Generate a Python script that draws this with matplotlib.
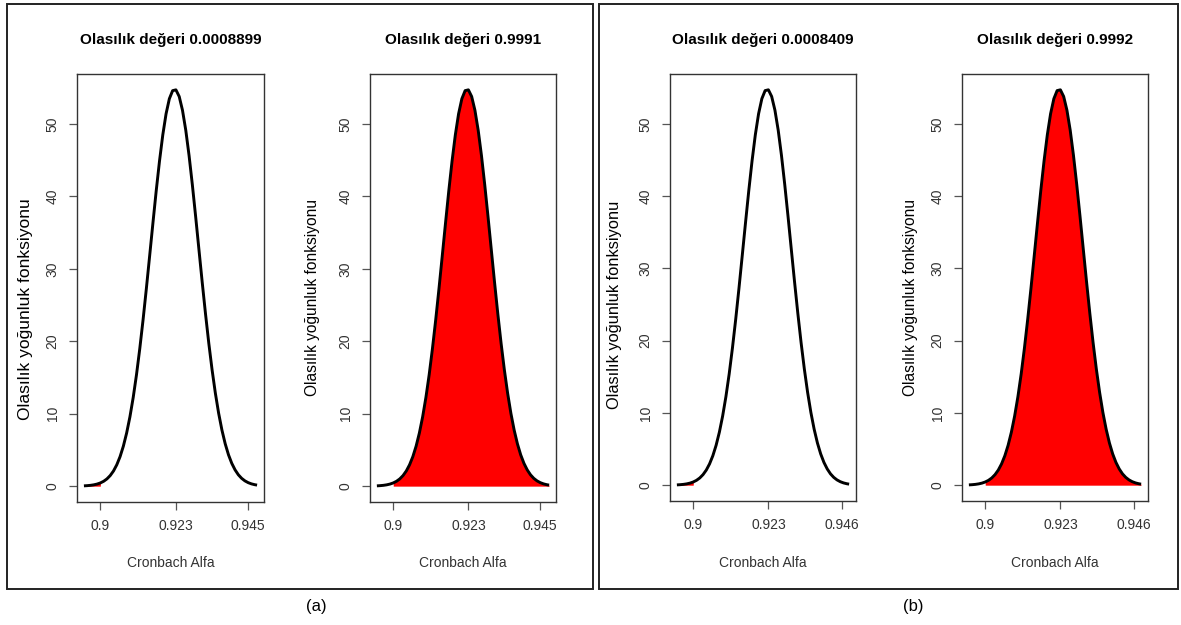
import matplotlib
matplotlib.use("Agg")
import matplotlib.pyplot as plt
from matplotlib.patches import Rectangle

plt.rcParams['font.family'] = ['Liberation Sans', 'DejaVu Sans']

# ---- data ----
alpha_x = [0.895, 0.896, 0.897, 0.898, 0.899, 0.900, 0.901, 0.902, 0.903, 0.904,
           0.905, 0.906, 0.907, 0.908, 0.909, 0.910, 0.911, 0.912, 0.913, 0.914,
           0.915, 0.916, 0.917, 0.918, 0.919, 0.920, 0.921, 0.922, 0.923, 0.924,
           0.925, 0.926, 0.927, 0.928, 0.929, 0.930, 0.931, 0.932, 0.933, 0.934,
           0.935, 0.936, 0.937, 0.938, 0.939, 0.940, 0.941, 0.942, 0.943, 0.944,
           0.945, 0.946, 0.947, 0.9477]
density_y = [0.041, 0.069, 0.113, 0.182, 0.286, 0.443, 0.672, 1.000, 1.462, 2.095,
             2.950, 4.072, 5.518, 7.337, 9.57, 12.25, 15.39, 18.99, 22.97, 27.27,
             31.78, 36.33, 40.77, 44.88, 48.49, 51.41, 53.49, 54.61, 54.72, 53.80,
             51.90, 49.14, 45.65, 41.62, 37.24, 32.69, 28.16, 23.81, 19.75, 16.08,
             12.85, 10.07, 7.75, 5.85, 4.33, 3.15, 2.25, 1.57, 1.08, 0.729,
             0.482, 0.313, 0.199, 0.144]
cutoff = 0.9

titles = ["Olasılık değeri 0.0008899", "Olasılık değeri 0.9991",
          "Olasılık değeri 0.0008409", "Olasılık değeri 0.9992"]
shade_side = ["lower", "upper", "lower", "upper"]
xtick_vals_a = [0.9, 0.923, 0.9448]
xtick_labels_a = ["0.9", "0.923", "0.945"]
xtick_vals_b = [0.9, 0.923, 0.9454]
xtick_labels_b = ["0.9", "0.923", "0.946"]
ytick_vals = [0, 10, 20, 30, 40, 50]
panel_labels = ["(a)", "(b)"]
ylabel_text = "Olasılık yoğunluk fonksiyonu"
xlabel_text = "Cronbach Alfa"

# ---- layout (pixels) ----
W, H = 1181, 625
fig = plt.figure(figsize=(W / 100, H / 100), dpi=100)
fig.patch.set_facecolor("white")


def fx(px):
    return px / W


def fy(py):
    return 1 - py / H


axes_px = [(77, 264, 74, 502), (370, 556, 74, 502),
           (670, 856, 74, 501), (962, 1148, 74, 501)]
ylabel_pos = [(26, 309, 12.5), (313, 297, 11.2), (614, 305, 11.8), (910, 297, 11.2)]
tick_sets = [(xtick_vals_a, xtick_labels_a), (xtick_vals_a, xtick_labels_a),
             (xtick_vals_b, xtick_labels_b), (xtick_vals_b, xtick_labels_b)]

xr = alpha_x[-1] - alpha_x[0]
yr = max(density_y)
tick_color = "#333333"

for i, (l, r, t, b) in enumerate(axes_px):
    ax = fig.add_axes([fx(l), fy(b), (r - l) / W, (b - t) / H])
    xs = alpha_x
    ys = density_y
    if shade_side[i] == "lower":
        mask = [x <= cutoff + 1e-9 for x in xs]
    else:
        mask = [x >= cutoff - 1e-9 for x in xs]
    ax.fill_between(xs, 0, ys, where=mask, color="#ff0000", linewidth=0, zorder=1)
    ax.plot(xs, ys, color="black", lw=2.1, zorder=2, solid_capstyle="butt")
    ax.set_xlim(alpha_x[0] - 0.04 * xr, alpha_x[-1] + 0.04 * xr)
    ax.set_ylim(-0.04 * yr, 1.04 * yr)
    tv, tl = tick_sets[i]
    ax.set_xticks(tv)
    ax.set_xticklabels(tl)
    ax.set_yticks(ytick_vals)
    ax.set_yticklabels([str(v) for v in ytick_vals])
    for sp in ax.spines.values():
        sp.set_color("#333333")
        sp.set_linewidth(1.0)
    ax.tick_params(axis="both", direction="out", length=5.5, width=0.9,
                   color="#555555", labelsize=10, labelcolor=tick_color, pad=7)
    for lab in ax.get_yticklabels():
        lab.set_rotation(90)
        lab.set_va("center")
        lab.set_ha("right")
    cx = (l + r) / 2
    fig.text(fx(cx), fy(40), titles[i], ha="center", va="center",
             fontsize=11, fontweight="bold", color="black")
    fig.text(fx(cx), fy(563), xlabel_text, ha="center", va="center",
             fontsize=10, color=tick_color)
    yx, yy, ys_ = ylabel_pos[i]
    fig.text(fx(yx), fy(yy), ylabel_text, ha="center", va="center",
             rotation=90, fontsize=ys_, color="black")

# panel frames
for (x0, x1) in [(7, 593), (599, 1178)]:
    rect = Rectangle((fx(x0), fy(589)), (x1 - x0) / W, (589 - 4) / H,
                     transform=fig.transFigure, fill=False,
                     edgecolor="#222222", linewidth=1.4)
    fig.patches.append(rect)

fig.text(fx(316), fy(607), panel_labels[0], ha="center", va="center", fontsize=12)
fig.text(fx(913), fy(606), panel_labels[1], ha="center", va="center", fontsize=12)

fig.savefig("out.png", dpi=100, facecolor="white")
